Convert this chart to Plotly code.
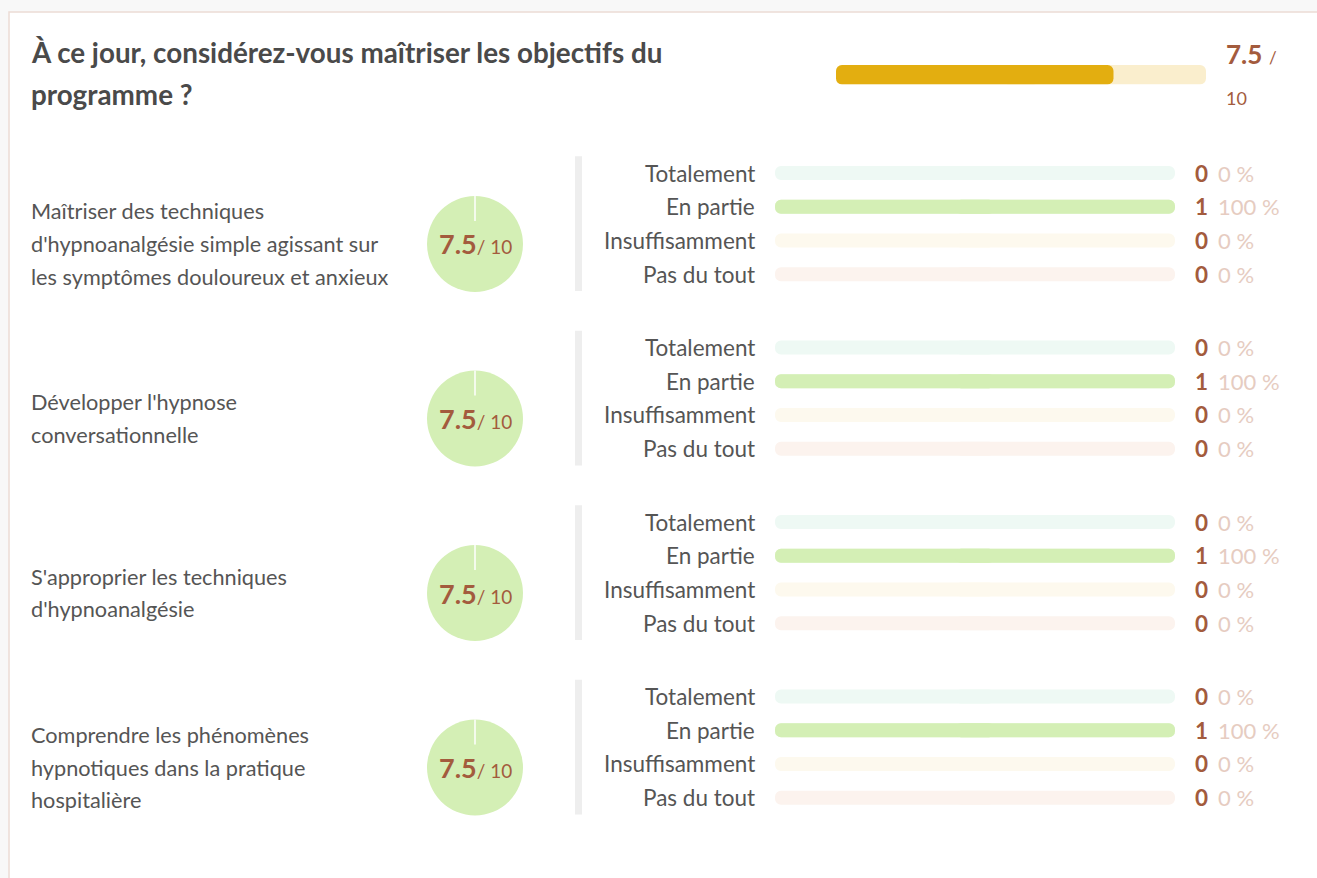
import plotly.graph_objects as go

# ---------------------------------------------------------------- data
title_lines = ["À ce jour, considérez-vous maîtriser les objectifs du", "programme ?"]
overall_score = 7.5
score_max = 10

objective_lines = [
    ["Maîtriser des techniques",
     "d'hypnoanalgésie simple agissant sur",
     "les symptômes douloureux et anxieux"],
    ["Développer l'hypnose",
     "conversationnelle"],
    ["S'approprier les techniques",
     "d'hypnoanalgésie"],
    ["Comprendre les phénomènes",
     "hypnotiques dans la pratique",
     "hospitalière"],
]
objective_scores = [7.5, 7.5, 7.5, 7.5]

answers = ["Totalement", "En partie", "Insuffisamment", "Pas du tout"]
answer_counts = [
    [0, 1, 0, 0],
    [0, 1, 0, 0],
    [0, 1, 0, 0],
    [0, 1, 0, 0],
]

# ---------------------------------------------------------------- styles
W, H = 1317, 878
FONT = "Lato"
TEXT = "#555555"
TITLE = "#4a4a4a"
BROWN = "#a35b3d"
PCT_COLOR = "#e6ccc1"
fill_colors = ["#bfe9d4", "#d4efb5", "#f6e6ab", "#f3cdbd"]
track_colors = ["#eef9f4", "#eaf7dc", "#fdf9ee", "#fcf3ee"]
score_fill = "#e3ae10"
score_track = "#faeecd"

GROUP_STEP = 174.5      # vertical distance between objective blocks (px)
ROW_STEP = 33.7         # distance between answer rows (px)
GROUP_TOP = 156.2       # top of first answer block (px)
PIE_CY = 244            # centre of first pie (px)
PIE_CX = 475
PIE_R = 48
SPLIT = 0.55            # bars are drawn as two overlapping pieces, each rounded on its outer end


def fx(px):
    return px / W


def fy(py):
    return 1 - py / H


fig = go.Figure()
annotations = []
shapes = []

# card background
shapes.append(dict(type="rect", xref="paper", yref="paper",
                   x0=fx(9), x1=1.02, y0=fy(12), y1=-0.05,
                   fillcolor="white", line=dict(color="#ecdcd5", width=1.5),
                   layer="below"))

# title
for i, line in enumerate(title_lines):
    annotations.append(dict(xref="paper", yref="paper", x=fx(29), y=fy(53 + i * 42),
                            xanchor="left", yanchor="middle", showarrow=False,
                            text=f"<b>{line}</b>",
                            font=dict(family=FONT, size=27.8, color=TITLE)))


def rounded_bar(y, start, end, color, width, radius, xaxis, yaxis):
    """Bar from start to end with both ends rounded: two overlapping pieces."""
    mid_l = [s + (e - s) * SPLIT for s, e in zip(start, end)]
    mid_r = [e - (e - s) * SPLIT for s, e in zip(start, end)]
    fig.add_trace(go.Bar(y=y, base=mid_l, x=[s - m for s, m in zip(start, mid_l)],
                         orientation="h", width=width, xaxis=xaxis, yaxis=yaxis,
                         marker=dict(color=color, cornerradius=radius, line_width=0),
                         hoverinfo="skip"))
    fig.add_trace(go.Bar(y=y, base=mid_r, x=[e - m for e, m in zip(end, mid_r)],
                         orientation="h", width=width, xaxis=xaxis, yaxis=yaxis,
                         marker=dict(color=color, cornerradius=radius, line_width=0),
                         hoverinfo="skip"))


# overall score bar: rounded track, fill rounded on its left end only
rounded_bar(["score"], [0], [score_max], score_track, 1, 6, "x", "y")
fig.add_trace(go.Bar(y=["score"], x=[-overall_score], base=[overall_score], orientation="h",
                     marker=dict(color=score_fill, cornerradius=6, line_width=0),
                     width=1, xaxis="x", yaxis="y", hoverinfo="skip"))

annotations.append(dict(xref="paper", yref="paper", x=fx(1224), y=fy(54),
                        xanchor="left", yanchor="middle", showarrow=False,
                        text=f"<b>{overall_score:g}</b> <span style='font-size:17px'>/</span>",
                        font=dict(family=FONT, size=26, color=BROWN)))
annotations.append(dict(xref="paper", yref="paper", x=fx(1224), y=fy(98),
                        xanchor="left", yanchor="middle", showarrow=False,
                        text=f"{score_max}",
                        font=dict(family=FONT, size=18, color=BROWN)))

layout_axes = dict(
    xaxis=dict(domain=[fx(836), fx(1206)], range=[0, score_max], visible=False,
               fixedrange=True, anchor="y"),
    yaxis=dict(domain=[fy(84.5), fy(65)], range=[-0.5, 0.5], visible=False,
               fixedrange=True, anchor="x", type="category"),
    xaxis2=dict(domain=[fx(775), fx(1175)], range=[0, 100], visible=False,
                fixedrange=True, anchor="y2"),
)

PCT_MAX = 100
BAR_W = 0.415
for g, counts in enumerate(answer_counts):
    ax = f"y{g + 2}"
    off = g * GROUP_STEP
    top = GROUP_TOP + off
    bottom = top + ROW_STEP * len(answers)
    layout_axes[f"yaxis{g + 2}"] = dict(
        domain=[fy(bottom), fy(top)], type="category",
        categoryorder="array", categoryarray=answers,
        range=[len(answers) - 0.5, -0.5], visible=False,
        fixedrange=True, anchor="x2")

    total = sum(counts)
    pcts = [c / total * 100 if total else 0 for c in counts]

    # answer tracks and shares
    rounded_bar(answers, [0] * len(answers), [PCT_MAX] * len(answers),
                track_colors, BAR_W, 7, "x2", ax)
    rounded_bar(answers, [0] * len(answers), pcts,
                fill_colors, BAR_W, 7, "x2", ax)

    # grey separator next to the block
    shapes.append(dict(type="rect", xref="paper", yref=f"{ax} domain",
                       x0=fx(575), x1=fx(582), y0=0, y1=1,
                       fillcolor="#eeeeee", line_width=0, layer="below"))

    for i, (name, c, p) in enumerate(zip(answers, counts, pcts)):
        annotations.append(dict(xref="x2", yref=ax, x=0, y=i, xshift=-18,
                                xanchor="right", yanchor="middle", showarrow=False,
                                text=name, font=dict(family=FONT, size=22.5, color=TEXT)))
        annotations.append(dict(xref="x2", yref=ax, x=PCT_MAX, y=i, xshift=18,
                                xanchor="left", yanchor="middle", showarrow=False,
                                text=f"<b>{c}</b>",
                                font=dict(family=FONT, size=22.5, color=BROWN)))
        annotations.append(dict(xref="x2", yref=ax, x=PCT_MAX, y=i, xshift=41,
                                xanchor="left", yanchor="middle", showarrow=False,
                                text=f"{p:g} %",
                                font=dict(family=FONT, size=22, color=PCT_COLOR)))

    # pie of answers
    cy = PIE_CY + off
    fig.add_trace(go.Pie(
        labels=answers, values=counts, sort=False, direction="clockwise",
        marker=dict(colors=fill_colors, line=dict(width=0)),
        textinfo="none", hoverinfo="skip", showlegend=False,
        domain=dict(x=[fx(PIE_CX - PIE_R), fx(PIE_CX + PIE_R)],
                    y=[fy(cy + PIE_R), fy(cy - PIE_R)])))
    shapes.append(dict(type="line", xref="paper", yref="paper",
                       x0=fx(PIE_CX), x1=fx(PIE_CX), y0=fy(cy - PIE_R), y1=fy(cy - PIE_R + 25),
                       line=dict(color="white", width=1.5)))
    annotations.append(dict(xref="paper", yref="paper", x=fx(PIE_CX), y=fy(cy),
                            xanchor="center", yanchor="middle", showarrow=False,
                            text=f"<b>{objective_scores[g]:g}</b><span style='font-size:19px'>/ {score_max}</span>",
                            font=dict(family=FONT, size=27, color=BROWN)))

    # objective label
    lines = objective_lines[g]
    n = len(lines)
    for i, line in enumerate(lines):
        annotations.append(dict(xref="paper", yref="paper", x=fx(29),
                                y=fy(cy + (i - (n - 1) / 2) * 32.7),
                                xanchor="left", yanchor="middle", showarrow=False,
                                text=line, font=dict(family=FONT, size=21.7, color=TEXT)))

fig.update_layout(
    width=W, height=H, margin=dict(l=0, r=0, t=0, b=0),
    paper_bgcolor="#f8f8f8", plot_bgcolor="rgba(0,0,0,0)",
    barmode="overlay", showlegend=False,
    font=dict(family=FONT),
    annotations=annotations, shapes=shapes,
    **layout_axes,
)

fig.write_html("out.html", config=dict(displayModeBar=False, staticPlot=True))
